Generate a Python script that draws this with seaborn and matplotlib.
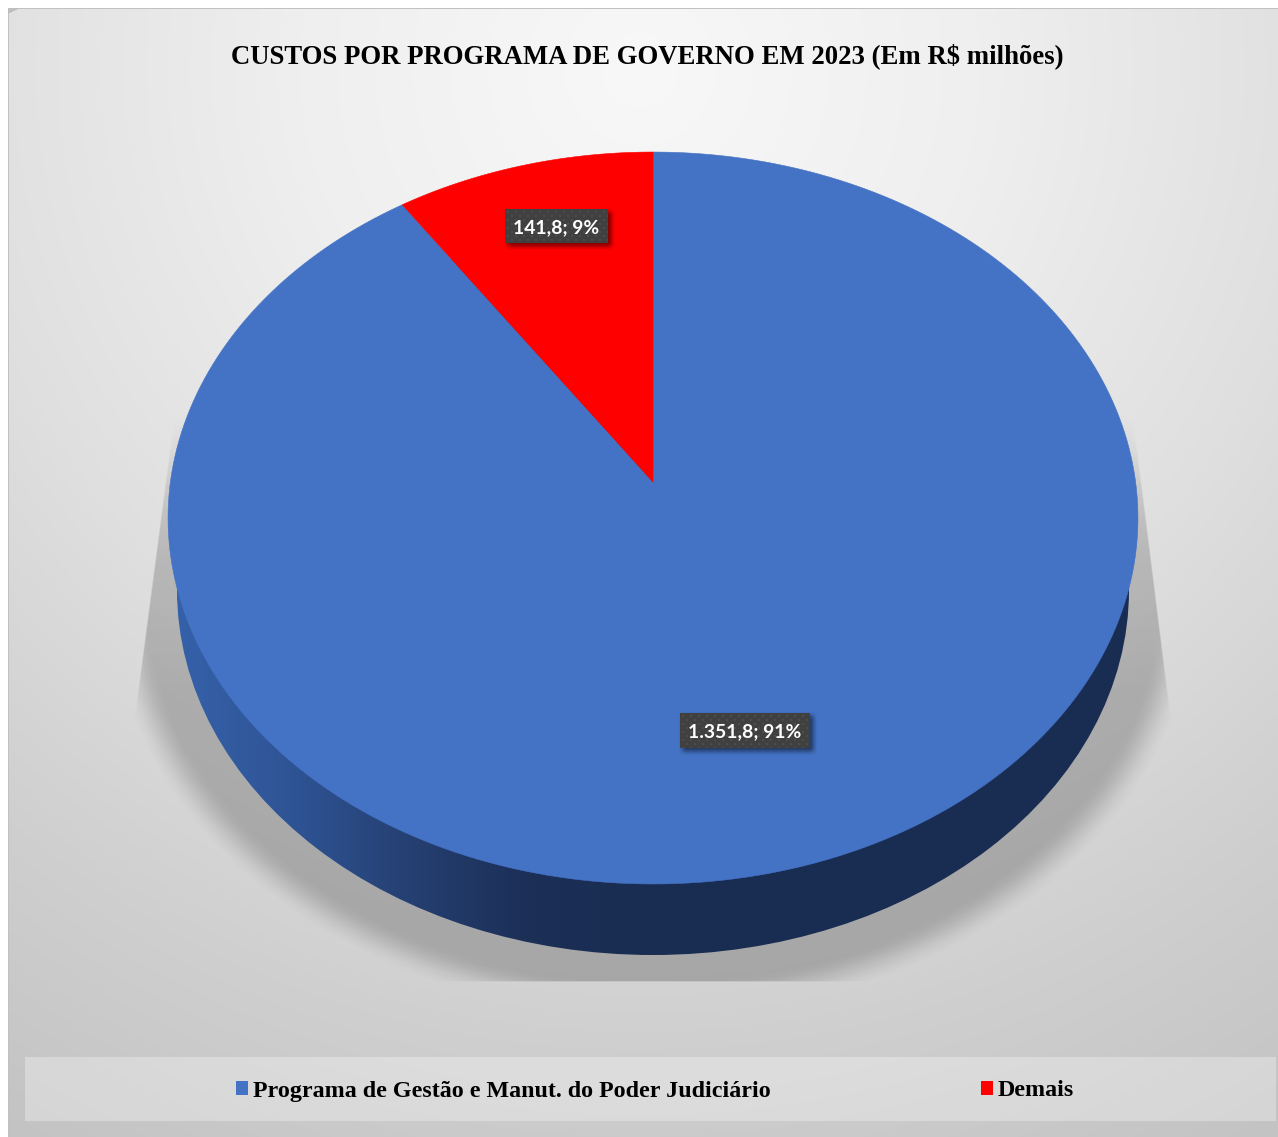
import numpy as np
import matplotlib
matplotlib.use("Agg")
import matplotlib.pyplot as plt
import seaborn as sns
from matplotlib.patches import Ellipse, Polygon, Rectangle, Patch
from matplotlib.transforms import Affine2D

# Cost figures (R$ millions)
categories = ["Programa de Gestão e Manut. do Poder Judiciário", "Demais"]
costs = [1351.8, 141.8]
slice_colors = ["#4472C4", "#FF0000"]
title_text = "CUSTOS POR PROGRAMA DE GOVERNO EM 2023 (Em R$ milhões)"

W, H = 1278, 1137
SERIF = "Liberation Serif"

sns.set_theme(style="white")
plt.rcParams["font.family"] = ["Lato", "DejaVu Sans"]
palette = sns.color_palette(slice_colors)

fig = plt.figure(figsize=(W / 100, H / 100), dpi=100)
ax = fig.add_axes([0, 0, 1, 1])
ax.set_axis_off()

X, Y = np.meshgrid(np.arange(W) + 0.5, np.arange(H) + 0.5)


def smooth(t):
    t = np.clip(t, 0, 1)
    return t * t * (3 - 2 * t)


def overlay(alpha, rgb=(0, 0, 0), zorder=2):
    layer = np.zeros(alpha.shape + (4,))
    layer[..., :3] = rgb
    layer[..., 3] = alpha
    return ax.imshow(layer, extent=(0, W, H, 0), aspect="auto", zorder=zorder,
                     interpolation="bilinear")


# Radial panel background with a white page margin
dist = np.hypot(X - 640, (Y - 70))
grey = np.interp(dist, [0, 340, 670, 980, 1240, 1400], [248, 239, 224, 207, 195, 190]) / 255
bg = np.dstack([grey, grey, grey])
bg[(Y < 9.5) | (X < 9.5)] = 0.76
bg[(X < 8) | (Y < 8)] = 1.0
corner = (X >= 8) & (Y >= 8) & ((X - 8) / 12 + (Y - 8) / 6 < 1)
bg[corner] = 0.75
ax.imshow(bg, extent=(0, W, H, 0), aspect="auto", zorder=0, interpolation="nearest")

# Soft floor shadow under the disc, cut flat along the front edge
r_in = np.hypot((X - 653) / 476, (Y - 590) / 365)
r_out = np.hypot((X - 653) / 545, (Y - 600) / 420)
gap_in = np.maximum(r_in - 1, 0)
gap_out = np.maximum(1 - r_out, 1e-6)
t = gap_in / (gap_in + gap_out)
shade = 0.21 * (1 - smooth((t - 0.45) / 0.55)) * (r_out < 1)
left_edge = 172 + (Y - 431) * (135 - 172) / (712 - 431)
right_edge = 1133 + (Y - 412) * (1170 - 1133) / (708 - 412)
inside_lines = np.clip(X - left_edge, 0, 1.5) / 1.5 * np.clip(right_edge - X, 0, 1.5) / 1.5
side_mask = np.where(Y < 712, inside_lines, 1.0)
fade = np.where(Y < 712, smooth((Y - 385) / 190) * 0.85 + 0.15 * smooth((Y - 560) / 150), 1.0)
floor_cut = np.clip(982 - Y, 0, 1.5) / 1.5
shade = shade * side_mask * fade * floor_cut
overlay(shade, zorder=1)

# Pie geometry comes from the cost values; a perspective map tilts it onto the floor
helper = fig.add_axes([0, 0, 0.01, 0.01])
wedges, _ = helper.pie(costs, colors=palette, startangle=90, counterclock=False, radius=1)
helper.set_visible(False)


def tilt(points):
    x, y = points[:, 0], points[:, 1]
    den = 1 + 0.0984 * y
    return np.column_stack([653 + 482.6 * x / den, (482 - 315 * y) / den])


# Extruded rim with a left-to-right dark gradient
rim_outline = Ellipse((653, 590), 952, 730, fc="none", ec="none", zorder=3)
ax.add_patch(rim_outline)
stops_x = [170, 300, 400, 520, 640, 1140]
stops = np.array([[0x36, 0x62, 0xAB], [0x2E, 0x53, 0x93], [0x26, 0x41, 0x74],
                  [0x1C, 0x30, 0x58], [0x19, 0x2C, 0x51], [0x19, 0x2C, 0x51]]) / 255
xs = np.arange(W) + 0.5
rim = np.dstack([np.interp(xs, stops_x, stops[:, c])[None, :] for c in range(3)])
rim_img = ax.imshow(rim, extent=(0, W, 1137, 0), aspect="auto", zorder=3)
rim_img.set_clip_path(rim_outline)

# Top face
for wedge, color in zip(wedges, palette):
    outline = wedge.get_path().to_polygons(Affine2D().scale(2000))[0] / 2000
    ax.add_patch(Polygon(tilt(outline), closed=True, fc=color, ec=color, lw=0.4, zorder=4))


def value_label(value, total):
    whole, dec = f"{value:,.1f}".split(".")
    return f"{whole.replace(',', '.')},{dec}; {round(value / total * 100)}%"


def label_box(x0, x1, y0, y1, text):
    # Offset soft shadow
    sx = smooth((X - (x0 - 2)) / 9) * smooth(((x1 + 8) - X) / 9)
    sy = smooth((Y - (y0 - 2)) / 9) * smooth(((y1 + 8) - Y) / 9)
    overlay(0.5 * sx * sy, zorder=5)
    # Dotted dark plate
    w, h = int(x1 - x0), int(y1 - y0)
    plate = np.full((h, w, 3), 0x40 / 255)
    yy, xx = np.mgrid[0:h, 0:w]
    dots = ((xx + 2) % 8 < 2) & ((yy + 2) % 8 < 2) | ((xx + 6) % 8 < 2) & ((yy + 6) % 8 < 2)
    plate[dots] = 0x4C / 255
    ax.imshow(plate, extent=(x0, x1, y1, y0), aspect="auto", zorder=6, interpolation="bilinear")
    ax.text((x0 + x1) / 2, (y0 + y1) / 2 + 1.5, text, color="white", fontsize=13.9,
            fontweight="bold", family="Lato", ha="center", va="center", zorder=7)


total = sum(costs)
label_box(505, 608, 209, 243, value_label(costs[1], total))
label_box(680, 810, 713, 748, value_label(costs[0], total))

# Title
ax.text(647, 56, title_text, fontsize=19.3, fontweight="bold", family=SERIF,
        color="black", ha="center", va="center", zorder=7)

# Legend strip
ax.add_patch(Rectangle((25, 1057), 1250.5, 63.5, fc="white", alpha=0.3, ec="none", zorder=2))
handles = [Patch(fc=c, ec="none", label=name) for c, name in zip(palette, categories)]
legend = ax.legend(handles=handles, ncol=2, loc="center left", frameon=False,
                   bbox_to_anchor=(236, 1091), bbox_transform=ax.transData,
                   prop={"family": SERIF, "weight": "bold", "size": 17.3},
                   labelcolor="black", handlelength=0.5, handleheight=0.5, handletextpad=0.2,
                   columnspacing=8.75, borderpad=0, borderaxespad=0)
legend.set_zorder(7)

ax.set_xlim(0, W)
ax.set_ylim(H, 0)
fig.savefig("out.png", dpi=100)
